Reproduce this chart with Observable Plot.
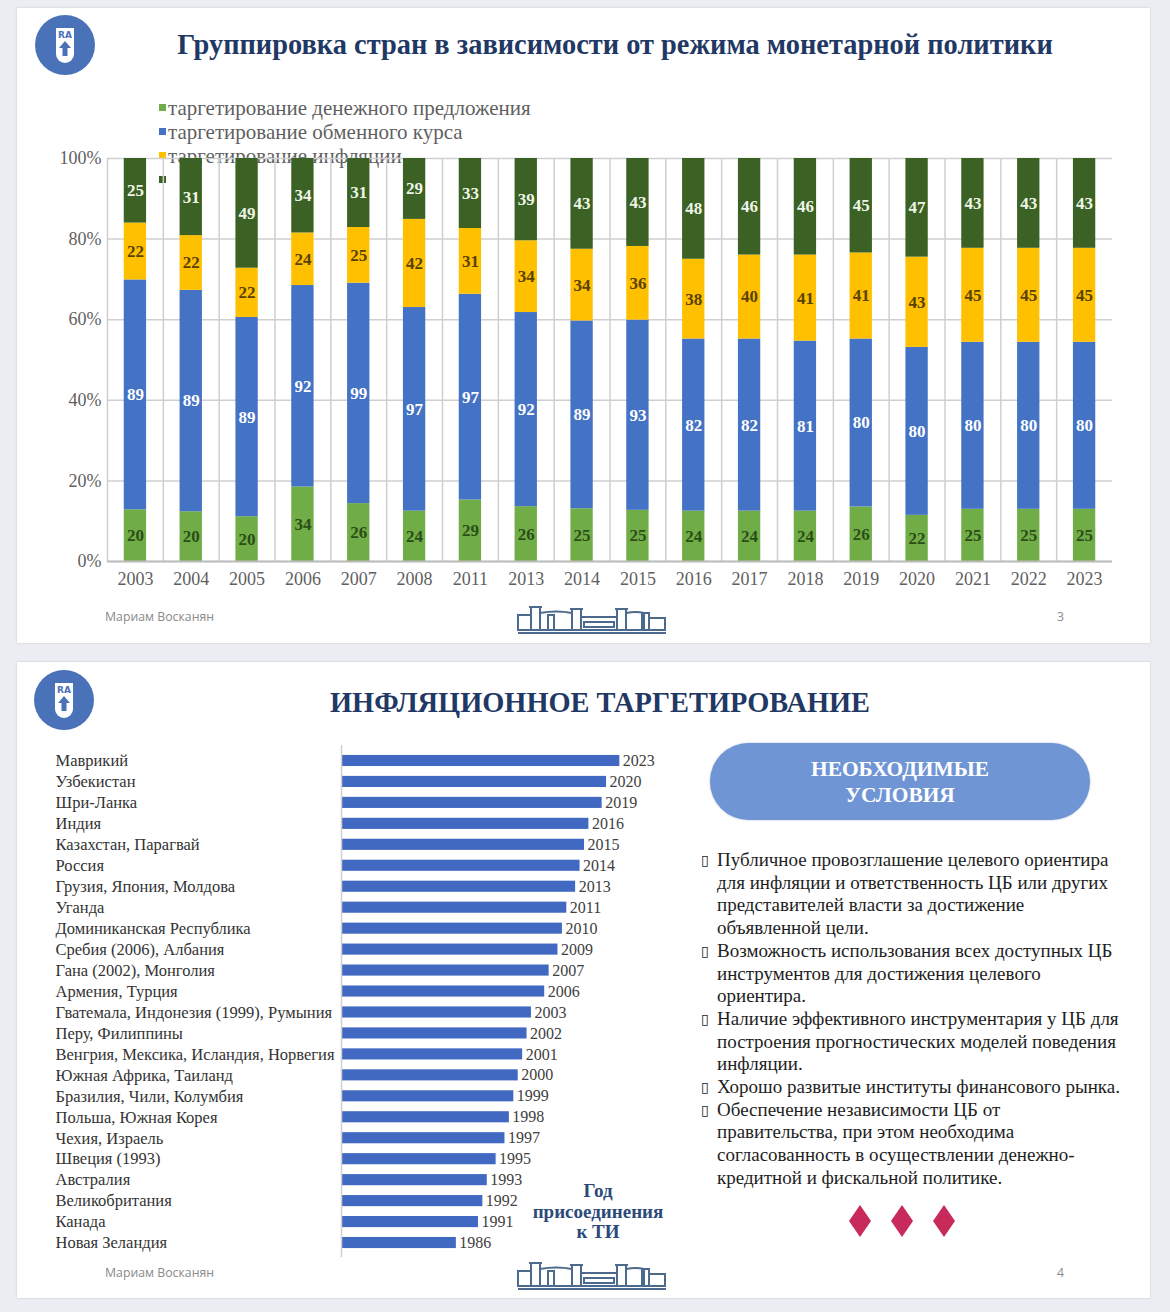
<!DOCTYPE html>
<html>
<head>
<meta charset="utf-8">
<script src="https://cdn.jsdelivr.net/npm/d3@7"></script>
<script src="https://cdn.jsdelivr.net/npm/@observablehq/plot@0.6"></script>
<style>
  html, body { margin: 0; padding: 0; }
  body { width: 1170px; height: 1312px; background: #ecedf3; position: relative; overflow: hidden; font-family: "Liberation Serif", "Times New Roman", serif; }
  .slide { position: absolute; left: 17px; width: 1133px; background: #fff; box-shadow: 0 0 2px rgba(0,0,0,0.18); }
  .abs { position: absolute; }
  .title { position: absolute; font-weight: bold; color: #1f3864; white-space: nowrap; transform: translate(-50%, -50%); }
  .footer-name { position: absolute; font-family: "Open Sans", "Noto Sans", sans-serif; font-size: 12.3px; color: #8a8a8a; transform: translateY(-50%); }
  .pagenum { position: absolute; font-family: "Open Sans", "Noto Sans", sans-serif; font-size: 12.3px; color: #8a8a8a; transform: translateY(-50%); }
  #legend1 { position: absolute; left: 159px; top: 96px; font-size: 21px; line-height: 24px; color: #5f5f5f; white-space: nowrap; }
  #legend1 .sw { display: inline-block; width: 7px; height: 7px; margin-right: 2px; vertical-align: 4px; }
  #chart1 { position: absolute; left: 20px; top: 100px; }
  #chart2 { position: absolute; left: 40px; top: 740px; }
  .pill { position: absolute; left: 710px; top: 743px; width: 380px; height: 77px; border-radius: 39px; background: #7095d5; color: #fff; font-weight: bold; font-size: 21.4px; line-height: 26px; text-align: center; display: flex; align-items: center; justify-content: center; box-shadow: 0 0 2px rgba(60,90,160,0.4); }
  #bullets { position: absolute; left: 701px; top: 849px; width: 460px; font-size: 19px; line-height: 22.7px; color: #1e1e1e; }
  #bullets .item { display: flex; }
  #bullets .b { width: 16px; flex: none; font-family: "DejaVu Sans", sans-serif; font-size: 14px; color: #222; }
  #bullets .t { white-space: nowrap; }
  .kti { position: absolute; left: 598px; top: 1181px; transform: translateX(-50%); text-align: center; font-weight: bold; font-size: 19px; line-height: 20.5px; color: #2b4a7a; white-space: nowrap; }
</style>
</head>
<body>
<div class="slide" style="top:8px;height:635px;"></div>
<div class="slide" style="top:662px;height:636px;"></div>

<!-- logos -->
<svg class="abs" style="left:34px;top:14px" width="62" height="62" viewBox="-31 -31 62 62">
  <circle r="30" fill="#4a72b8"/>
  <path d="M-9,-17 H9 V9 A9,9 0 0 1 -9,9 Z" fill="#fff"/>
  <text x="0" y="-7" text-anchor="middle" font-family="DejaVu Sans" font-weight="bold" font-size="9" fill="#4a72b8">RA</text>
  <path d="M0,-4 L6,3 H2.5 V11 H-2.5 V3 H-6 Z" fill="#4a72b8"/>
</svg>
<svg class="abs" style="left:33px;top:669px" width="62" height="62" viewBox="-31 -31 62 62">
  <circle r="30" fill="#4a72b8"/>
  <path d="M-9,-17 H9 V9 A9,9 0 0 1 -9,9 Z" fill="#fff"/>
  <text x="0" y="-7" text-anchor="middle" font-family="DejaVu Sans" font-weight="bold" font-size="9" fill="#4a72b8">RA</text>
  <path d="M0,-4 L6,3 H2.5 V11 H-2.5 V3 H-6 Z" fill="#4a72b8"/>
</svg>

<div class="title" style="left:615px;top:45px;font-size:28.4px;">Группировка стран в зависимости от режима монетарной политики</div>
<div class="title" style="left:600px;top:703px;font-size:28.4px;">ИНФЛЯЦИОННОЕ ТАРГЕТИРОВАНИЕ</div>

<div id="legend1"></div>
<div id="chart1"></div>
<div id="chart2"></div>

<div class="pill"><div>НЕОБХОДИМЫЕ<br>УСЛОВИЯ</div></div>
<div id="bullets"></div>
<div class="kti">Год<br>присоединения<br>к ТИ</div>

<svg class="abs" style="left:846px;top:1204px" width="114" height="34">
  <polygon points="14,1 25,17 14,33 3,17" fill="#c92a5c"/>
  <polygon points="56,1 67,17 56,33 45,17" fill="#c92a5c"/>
  <polygon points="98,1 109,17 98,33 87,17" fill="#c92a5c"/>
</svg>

<div class="footer-name" style="left:105px;top:616px;">Мариам Восканян</div>
<div class="pagenum" style="left:1057px;top:616px;">3</div>
<div class="footer-name" style="left:105px;top:1272px;">Мариам Восканян</div>
<div class="pagenum" style="left:1057px;top:1272px;">4</div>

<svg class="abs building" style="left:516px;top:603px" width="152" height="34"></svg>
<svg class="abs building" style="left:516px;top:1259px" width="152" height="34"></svg>

<script>
// ---------- data: chart 1 ----------
const years = ["2003","2004","2005","2006","2007","2008","2011","2013","2014","2015","2016","2017","2018","2019","2020","2021","2022","2023"];
const seriesNames = ["таргетирование денежного предложения", "таргетирование обменного курса", "таргетирование инфляции", "прочие режимы"];
const legendLabels = ["таргетирование денежного предложения", "таргетирование обменного курса", "таргетирование инфляции", ""];
const moneySupply  = [20,20,20,34,26,24,29,26,25,25,24,24,24,26,22,25,25,25];
const exchangeRate = [89,89,89,92,99,97,97,92,89,93,82,82,81,80,80,80,80,80];
const inflation    = [22,22,22,24,25,42,31,34,34,36,38,40,41,41,43,45,45,45];
const otherRegimes = [25,31,49,34,31,29,33,39,43,43,48,46,46,45,47,43,43,43];
const yTicks = [0, 0.2, 0.4, 0.6, 0.8, 1];

// ---------- data: chart 2 ----------
const countries = ["Маврикий","Узбекистан","Шри-Ланка","Индия","Казахстан, Парагвай","Россия","Грузия, Япония, Молдова","Уганда","Доминиканская Республика","Сребия (2006), Албания","Гана (2002), Монголия","Армения, Турция","Гватемала, Индонезия (1999), Румыния","Перу, Филиппины","Венгрия, Мексика, Исландия, Норвегия","Южная Африка, Таиланд","Бразилия, Чили, Колумбия","Польша, Южная Корея","Чехия, Израель","Швеция (1993)","Австралия","Великобритания","Канада","Новая Зеландия"];
const adoptionYears = [2023,2020,2019,2016,2015,2014,2013,2011,2010,2009,2007,2006,2003,2002,2001,2000,1999,1998,1997,1995,1993,1992,1991,1986];
const axisStart = 1960;
const axisEnd = 2039;

// ---------- styles ----------
const seriesColors = ["#70ad47", "#4472c4", "#ffc000", "#3b6124"];
const labelColors  = ["#2c4d17", "#ffffff", "#5a4200", "#eef5e6"];

// legend
const legend = document.getElementById("legend1");
legendLabels.forEach((lab, i) => {
  const line = document.createElement("div");
  line.innerHTML = `<span class="sw" style="background:${seriesColors[i]}"></span>${lab}`;
  legend.appendChild(line);
});

// chart 1
const valuesBySeries = [moneySupply, exchangeRate, inflation, otherRegimes];
const rows1 = years.flatMap((yr, i) => seriesNames.map((s, k) => ({year: yr, series: s, value: valuesBySeries[k][i]})));
const W1 = 1110, H1 = 500, ML1 = 87, MR1 = 18, MT1 = 58, MB1 = 39;
const step1 = (W1 - ML1 - MR1) / years.length;
const stackOpts = {x: "year", y: "value", z: "series", order: seriesNames, offset: "normalize"};
const labelMarks = seriesNames.map((s, k) => Plot.text(rows1, Plot.stackY({
  ...stackOpts,
  text: d => d.series === s ? String(d.value) : "",
  fill: labelColors[k], fontWeight: "bold", fontSize: 17
})));

const chart1 = Plot.plot({
  width: W1, height: H1,
  marginLeft: ML1, marginRight: MR1, marginTop: MT1, marginBottom: MB1,
  style: {background: "transparent", fontFamily: "'Liberation Serif', 'Times New Roman', serif", color: "#5f5f5f", overflow: "visible"},
  x: {type: "band", domain: years, paddingInner: 0.6, paddingOuter: 0.3, round: false, label: null, axis: null},
  y: {domain: [0, 1], label: null, axis: null},
  color: {domain: seriesNames, range: seriesColors},
  marks: [
    Plot.ruleY(yTicks, {stroke: "#cfcfcf", strokeWidth: 1.5}),
    Plot.tickX(years, {x: d => d, dx: -step1 / 2, stroke: "#cfcfcf", strokeWidth: 1.5}),
    Plot.barY(rows1, Plot.stackY({...stackOpts, fill: "series"})),
    ...labelMarks,
    Plot.ruleY([0], {stroke: "#bdbdbd", strokeWidth: 2}),
    Plot.axisY({ticks: yTicks, tickFormat: d3.format(".0%"), tickSize: 0, tickPadding: 6, fontSize: 18}),
    Plot.axisX({tickSize: 0, tickPadding: 11, fontSize: 18})
  ]
});
document.getElementById("chart1").appendChild(chart1);

// chart 2
const rows2 = countries.map((c, i) => ({country: c, year: adoptionYears[i]}));
const chart2 = Plot.plot({
  width: 650, height: 520,
  marginLeft: 301, marginRight: 0, marginTop: 10, marginBottom: 7,
  style: {background: "transparent", fontFamily: "'Liberation Serif', 'Times New Roman', serif", color: "#333333", overflow: "visible"},
  x: {domain: [axisStart, axisEnd], axis: null, label: null},
  y: {type: "band", domain: countries, paddingInner: 0.47, paddingOuter: 0.235, round: false, axis: null, label: null},
  marks: [
    Plot.barX(rows2, {x1: axisStart, x2: "year", y: "country", fill: "#4169c2"}),
    Plot.ruleX([axisStart], {stroke: "#d0d0d0", strokeWidth: 1.5, insetTop: -5, insetBottom: -4}),
    Plot.text(rows2, {x: "year", y: "country", text: d => String(d.year), textAnchor: "start", dx: 3, fontSize: 16, fill: "#404040"}),
    Plot.axisY({tickSize: 0, tickPadding: 0, textAnchor: "start", dx: -286, fontSize: 16.5})
  ]
});
document.getElementById("chart2").appendChild(chart2);

// bullets
const bulletItems = [
  ["Публичное провозглашение целевого ориентира", "для инфляции и ответственность ЦБ или других", "представителей власти за достижение", "объявленной цели."],
  ["Возможность использования всех доступных ЦБ", "инструментов для достижения целевого", "ориентира."],
  ["Наличие эффективного инструментария у ЦБ для", "построения прогностических моделей поведения", "инфляции."],
  ["Хорошо развитые институты финансового рынка."],
  ["Обеспечение независимости ЦБ от", "правительства, при этом необходима", "согласованность в осуществлении денежно-", "кредитной и фискальной политике."]
];
const bl = document.getElementById("bullets");
bulletItems.forEach(lines => {
  const it = document.createElement("div");
  it.className = "item";
  it.innerHTML = `<span class="b">&#x25AF;</span><span class="t">${lines.join("<br>")}</span>`;
  bl.appendChild(it);
});

// building icon
const bPath = `
  <g fill="none" stroke="#4b6a8c" stroke-width="2">
    <path d="M2,30 H150"/>
    <path d="M2,27 H150"/>
    <rect x="2" y="12" width="13" height="15"/>
    <rect x="15" y="4" width="9" height="23"/>
    <path d="M13,4 H26"/>
    <path d="M24,10 Q40,7 56,10 V27"/>
    <rect x="32" y="12" width="6" height="15"/>
    <rect x="56" y="6" width="9" height="21"/>
    <path d="M54,6 H67"/>
    <rect x="65" y="14" width="36" height="13"/>
    <path d="M68,19 H98 V24 H68 Z"/>
    <rect x="101" y="6" width="9" height="21"/>
    <path d="M99,6 H112"/>
    <path d="M110,10 Q120,8 128,10 V27"/>
    <rect x="126" y="10" width="7" height="17"/>
    <rect x="133" y="15" width="16" height="12"/>
  </g>`;
document.querySelectorAll("svg.building").forEach(s => s.innerHTML = bPath);
</script>
</body>
</html>
